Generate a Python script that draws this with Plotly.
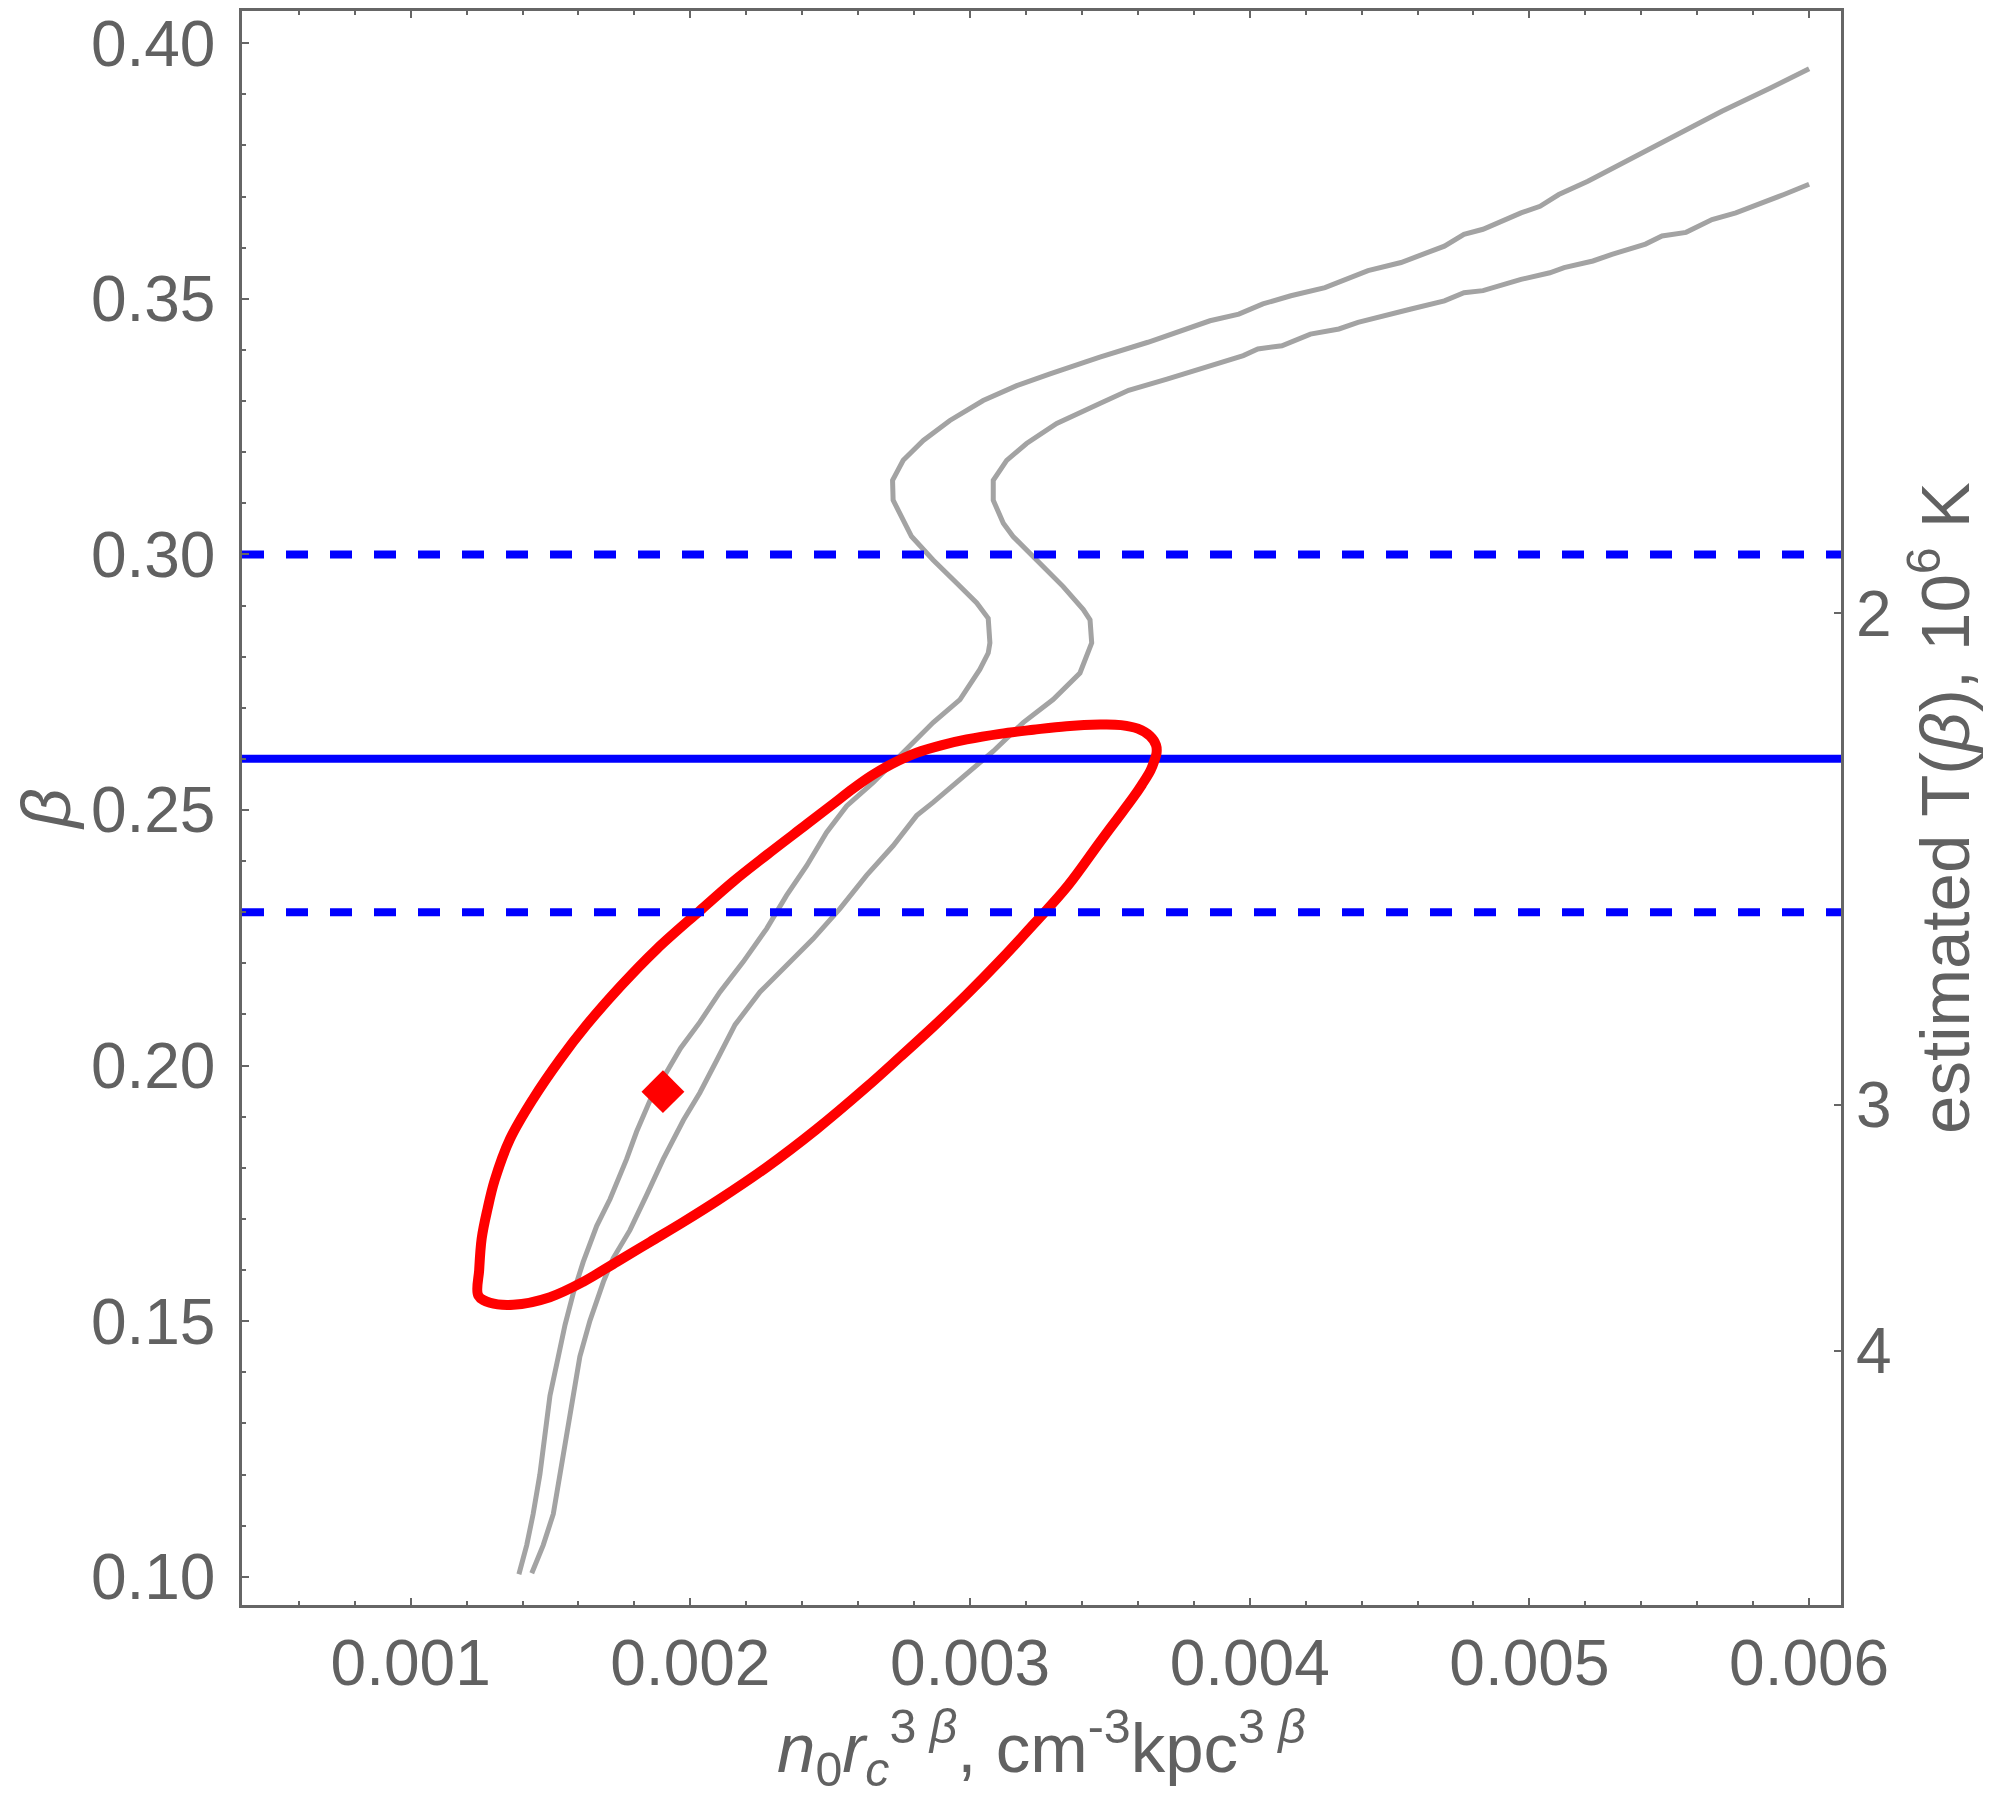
import plotly.graph_objects as go

# ---------------- data ----------------
x_range = [0.000397, 0.006114]
beta_range = [0.09448, 0.4063]

# grey curve (left / upper branch)
gray_a_x = [0.001387, 0.001415, 0.001438, 0.001462, 0.001480, 0.001498, 0.001528, 0.001552,
            0.001581, 0.001617, 0.001665, 0.001713, 0.001772, 0.001808, 0.001856, 0.001905,
            0.001965, 0.002034, 0.002106, 0.002189, 0.002273, 0.002344, 0.002416, 0.002487,
            0.002559, 0.002654, 0.002761, 0.002868, 0.002964, 0.003035, 0.003065, 0.003071,
            0.003065, 0.003024, 0.002952, 0.002868, 0.002791, 0.002761, 0.002725, 0.002723,
            0.002761, 0.002833, 0.002928, 0.003047, 0.003167, 0.003286, 0.003464, 0.003636,
            0.003740, 0.003858, 0.003961, 0.004047, 0.004147, 0.004269, 0.004423, 0.004541,
            0.004696, 0.004766, 0.004834, 0.004970, 0.005038, 0.005105, 0.005209, 0.005345,
            0.005517, 0.005688, 0.005860, 0.006000]
gray_a_beta = [0.1005, 0.1062, 0.1123, 0.1200, 0.1277, 0.1354, 0.1431, 0.1493,
               0.1554, 0.1616, 0.1686, 0.1739, 0.1817, 0.1871, 0.1932, 0.1980,
               0.2034, 0.2085, 0.2144, 0.2203, 0.2268, 0.2333, 0.2391, 0.2456,
               0.2508, 0.2554, 0.2612, 0.2671, 0.2716, 0.2775, 0.2807, 0.2827,
               0.2875, 0.2905, 0.2944, 0.2989, 0.3035, 0.3067, 0.3106, 0.3145,
               0.3184, 0.3223, 0.3262, 0.3301, 0.3330, 0.3353, 0.3386, 0.3415,
               0.3434, 0.3457, 0.3470, 0.3490, 0.3506, 0.3522, 0.3555, 0.3571,
               0.3603, 0.3626, 0.3636, 0.3668, 0.3681, 0.3704, 0.3730, 0.3769,
               0.3818, 0.3867, 0.3912, 0.3950]

# grey curve (right / lower branch)
gray_b_x = [0.001433, 0.001474, 0.001510, 0.001534, 0.001558, 0.001581, 0.001605, 0.001641,
            0.001689, 0.001724, 0.001784, 0.001844, 0.001903, 0.001975, 0.002034, 0.002094,
            0.002160, 0.002249, 0.002344, 0.002439, 0.002535, 0.002630, 0.002725, 0.002809,
            0.002868, 0.002964, 0.003083, 0.003190, 0.003297, 0.003393, 0.003435, 0.003429,
            0.003405, 0.003333, 0.003238, 0.003154, 0.003119, 0.003083, 0.003083, 0.003131,
            0.003202, 0.003310, 0.003464, 0.003567, 0.003704, 0.003807, 0.003977, 0.004029,
            0.004115, 0.004217, 0.004319, 0.004387, 0.004491, 0.004577, 0.004696, 0.004766,
            0.004834, 0.004970, 0.005073, 0.005124, 0.005227, 0.005295, 0.005415, 0.005474,
            0.005560, 0.005653, 0.005738, 0.005824, 0.005910, 0.006000]
gray_b_beta = [0.1007, 0.1062, 0.1123, 0.1200, 0.1277, 0.1354, 0.1431, 0.1501,
               0.1577, 0.1623, 0.1678, 0.1747, 0.1817, 0.1893, 0.1947, 0.2010,
               0.2080, 0.2144, 0.2196, 0.2248, 0.2307, 0.2372, 0.2430, 0.2489,
               0.2515, 0.2560, 0.2615, 0.2671, 0.2716, 0.2768, 0.2827, 0.2872,
               0.2892, 0.2937, 0.2989, 0.3035, 0.3061, 0.3106, 0.3145, 0.3184,
               0.3217, 0.3256, 0.3295, 0.3321, 0.3343, 0.3360, 0.3389, 0.3402,
               0.3408, 0.3431, 0.3441, 0.3454, 0.3467, 0.3480, 0.3496, 0.3512,
               0.3516, 0.3538, 0.3551, 0.3561, 0.3574, 0.3587, 0.3607, 0.3623,
               0.3630, 0.3655, 0.3668, 0.3685, 0.3704, 0.3724]

# red confidence contour (closed)
red_x = [0.001242, 0.001245, 0.001254, 0.001275, 0.001300, 0.001355, 0.001438, 0.001534,
         0.001630, 0.001750, 0.001880, 0.002034, 0.002153, 0.002273, 0.002416, 0.002511,
         0.002582, 0.002650, 0.002720, 0.002809, 0.002900, 0.002988, 0.003107, 0.003226,
         0.003345, 0.003465, 0.003540, 0.003600, 0.003643, 0.003665, 0.003667, 0.003660,
         0.003645, 0.003615, 0.003584, 0.003520, 0.003464, 0.003350, 0.003230, 0.003110,
         0.002990, 0.002870, 0.002750, 0.002630, 0.002450, 0.002270, 0.002100, 0.001975,
         0.001856, 0.001737, 0.001617, 0.001498, 0.001367, 0.001284, 0.001242]
red_beta = [0.1550, 0.1600, 0.1662, 0.1720, 0.1775, 0.1856, 0.1935, 0.2012,
            0.2080, 0.2155, 0.2228, 0.2303, 0.2360, 0.2412, 0.2472, 0.2512,
            0.2542, 0.2568, 0.2590, 0.2612, 0.2627, 0.2638, 0.2649, 0.2657,
            0.2664, 0.2667, 0.2666, 0.2659, 0.2645, 0.2627, 0.2612, 0.2598,
            0.2577, 0.2550, 0.2525, 0.2478, 0.2437, 0.2352, 0.2278, 0.2207,
            0.2140, 0.2077, 0.2017, 0.1958, 0.1875, 0.1800, 0.1737, 0.1694,
            0.1655, 0.1616, 0.1577, 0.1547, 0.1532, 0.1536, 0.1550]

best_x = [0.001902]
best_beta = [0.1949]

beta_central = 0.26
beta_low = 0.23
beta_high = 0.30

T_ticks = [2, 3, 4]          # estimated T, 10^6 K
T_const = 0.577              # T = T_const / beta

# ---------------- style ----------------
AX = "#666666"
TXT = "#616161"
FONT = "Liberation Sans, Arial, sans-serif"
FS = 64
TFS = 69

fig = go.Figure()

fig.add_trace(go.Scatter(x=gray_a_x, y=gray_a_beta, mode="lines",
                         line=dict(color="#a3a3a3", width=5), hoverinfo="skip"))
fig.add_trace(go.Scatter(x=gray_b_x, y=gray_b_beta, mode="lines",
                         line=dict(color="#a3a3a3", width=5), hoverinfo="skip"))
fig.add_trace(go.Scatter(x=x_range, y=[beta_central, beta_central], mode="lines",
                         line=dict(color="#0000ff", width=8), hoverinfo="skip"))
fig.add_trace(go.Scatter(x=red_x, y=red_beta, mode="lines",
                         line=dict(color="#ff0000", width=10, shape="spline", smoothing=1.0),
                         hoverinfo="skip"))
for b in (beta_low, beta_high):
    fig.add_trace(go.Scatter(x=x_range, y=[b, b], mode="lines",
                             line=dict(color="#0000ff", width=8, dash="22px,22px"),
                             hoverinfo="skip"))
fig.add_trace(go.Scatter(x=best_x, y=best_beta, mode="markers",
                         marker=dict(symbol="diamond", size=33, color="#ff0000",
                                     line=dict(width=0)),
                         hoverinfo="skip"))
# invisible trace to activate right axis
fig.add_trace(go.Scatter(x=[best_x[0]], y=[best_beta[0]], yaxis="y2", mode="markers",
                         marker=dict(opacity=0), hoverinfo="skip"))

fig.update_layout(
    width=1984, height=1788,
    margin=dict(l=234, r=151, t=0, b=191),
    paper_bgcolor="white", plot_bgcolor="white",
    showlegend=False,
    font=dict(family=FONT, color=TXT, size=FS),
    xaxis=dict(
        range=x_range, showgrid=False, zeroline=False,
        showline=True, linecolor=AX, linewidth=2.5, mirror="ticks",
        ticks="inside", ticklen=7, tickwidth=2, tickcolor=AX,
        tick0=0, dtick=0.001, tickformat=".3f",
        minor=dict(ticks="inside", tick0=0, dtick=0.0002, ticklen=4, tickwidth=1.5, tickcolor=AX),
        tickfont=dict(family=FONT, size=FS, color=TXT),
        ticklabelstandoff=0, ticklabeloverflow="allow",
        title=dict(text="<i>n</i><sub>0</sub><i>r</i><sub><i>c</i></sub><sup>3 <i>β</i></sup>, cm<sup>-3</sup>kpc<sup>3 <i>β</i></sup>",
                   font=dict(family=FONT, size=TFS, color=TXT), standoff=34),
    ),
    yaxis=dict(
        range=beta_range, showgrid=False, zeroline=False,
        showline=True, linecolor=AX, linewidth=2.5, mirror=True,
        ticks="inside", ticklen=7, tickwidth=2, tickcolor=AX,
        tick0=0, dtick=0.05, tickformat=".2f",
        minor=dict(ticks="inside", tick0=0, dtick=0.01, ticklen=4, tickwidth=1.5, tickcolor=AX),
        tickfont=dict(family=FONT, size=FS, color=TXT),
        ticklabelstandoff=11, ticklabeloverflow="allow",
        title=dict(text="<i>β</i>", font=dict(family=FONT, size=TFS, color=TXT), standoff=26),
    ),
    yaxis2=dict(
        overlaying="y", side="right", range=beta_range,
        showgrid=False, zeroline=False, showline=False,
        ticks="inside", ticklen=7, tickwidth=2, tickcolor=AX,
        tickvals=[T_const / t for t in T_ticks], ticktext=[str(t) for t in T_ticks],
        tickfont=dict(family=FONT, size=FS, color=TXT),
        ticklabelstandoff=14, ticklabeloverflow="allow",
        title=dict(text="estimated T(<i>β</i>), 10<sup>6</sup> K",
                   font=dict(family=FONT, size=TFS, color=TXT), standoff=30),
    ),
)

fig.write_html("out.html")
